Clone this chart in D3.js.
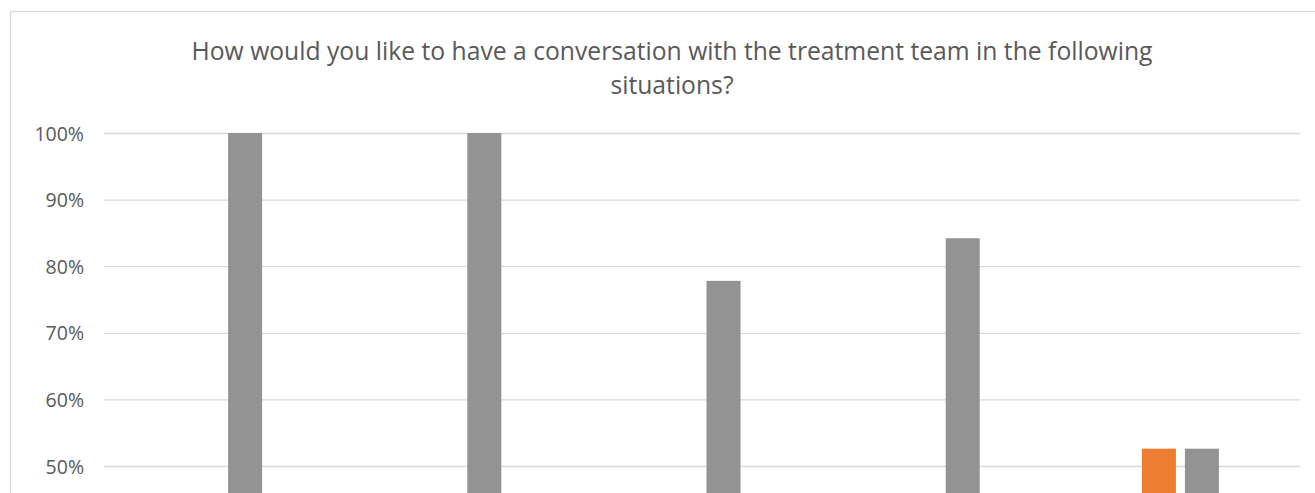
<!DOCTYPE html>
<html>
<head>
<meta charset="utf-8">
<script src="https://cdn.jsdelivr.net/npm/d3@7"></script>
<style>
  html, body { margin: 0; padding: 0; background: #fff; overflow: hidden; }
  svg { display: block; }
  text { font-family: "Open Sans", "Noto Sans", sans-serif; fill: #595959; }
</style>
</head>
<body>
<svg id="chart"></svg>
<script>
// ---- data ----
const titleLines = ["How would you like to have a conversation with the treatment team in the following", "situations?"];
const categories = ["Situation 1", "Situation 2", "Situation 3", "Situation 4", "Situation 5"];
const seriesNames = ["Series A", "Series B"];
const seriesA = [0, 0, 0.222, 0.158, 0.526];   // orange (values below 50% lie outside the visible crop)
const seriesB = [1.0, 1.0, 0.778, 0.842, 0.526]; // gray
const gridValues = [0, 0.1, 0.2, 0.3, 0.4, 0.5, 0.6, 0.7, 0.8, 0.9, 1.0];
const labelValues = [0.5, 0.6, 0.7, 0.8, 0.9, 1.0]; // tick labels visible in the crop
const colors = ["#ED7D31", "#939393"];

// ---- layout ----
const W = 1315, H = 493;
const plot = { left: 104, right: 1300, top: 133, bottom: 799 };

const svg = d3.select("#chart").attr("width", W).attr("height", H);

// chart border
svg.append("rect")
  .attr("x", 10.5).attr("y", 11.5)
  .attr("width", W + 20).attr("height", H + 20)
  .attr("fill", "none").attr("stroke", "#d9d9d9").attr("stroke-width", 1.3);

// title
svg.append("text")
  .attr("text-anchor", "middle")
  .style("font-size", "24.7px")
  .selectAll("tspan").data(titleLines).join("tspan")
  .attr("x", 672)
  .attr("y", (d, i) => 60 + i * 33.5)
  .text(d => d);

const x = d3.scaleBand().domain(categories)
  .range([plot.left, plot.right]).paddingInner(0.678).paddingOuter(0.339);
const xs = d3.scaleBand().domain(seriesNames)
  .range([0, x.bandwidth()]).paddingInner(9 / 43);
const y = d3.scaleLinear().domain([0, 1]).range([plot.bottom, plot.top]);

// gridlines
const gGrid = svg.append("g").attr("transform", `translate(${plot.left},0)`)
  .call(d3.axisLeft(y).tickValues(gridValues).tickFormat("").tickSize(-(plot.right - plot.left)));
gGrid.select(".domain").remove();
gGrid.selectAll(".tick line").attr("stroke", "#d9d9d9").attr("stroke-width", 1.3);

// y labels
const gy = svg.append("g").attr("transform", `translate(${plot.left},0)`)
  .call(d3.axisLeft(y).tickValues(labelValues).tickFormat(d3.format(".0%")).tickSize(0).tickPadding(20));
gy.select(".domain").remove();
gy.selectAll(".tick text").attr("fill", "#595959").style("font-size", "19.5px")
  .attr("dy", "0.36em");

// bars
const rows = categories.map((c, i) => ({ cat: c, vals: [seriesA[i], seriesB[i]] }));
const groups = svg.append("g").selectAll("g").data(rows).join("g")
  .attr("transform", d => `translate(${x(d.cat)},0)`);
groups.selectAll("rect")
  .data(d => d.vals.map((v, j) => ({ s: seriesNames[j], v, j })))
  .join("rect")
  .attr("x", d => xs(d.s))
  .attr("width", xs.bandwidth())
  .attr("y", d => y(d.v))
  .attr("height", d => y(0) - y(d.v))
  .attr("fill", d => colors[d.j]);
</script>
</body>
</html>
